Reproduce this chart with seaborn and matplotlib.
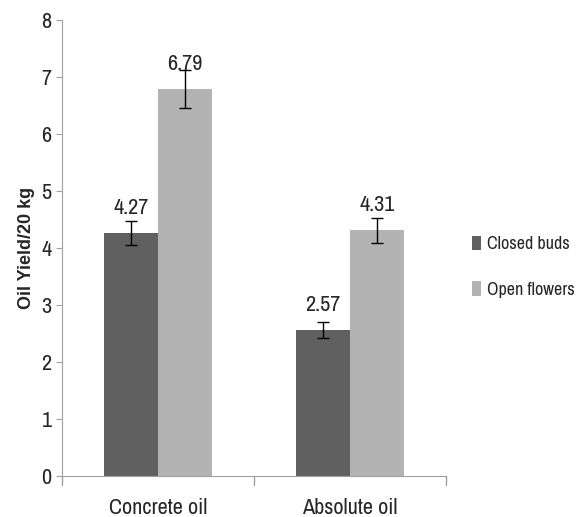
import pandas as pd
import seaborn as sns
import matplotlib.pyplot as plt

# data
oils = ["Concrete oil", "Absolute oil"]
closed_buds = [4.27, 2.57]
open_flowers = [6.79, 4.31]
closed_err = [0.21, 0.14]
open_err = [0.33, 0.22]

df = pd.DataFrame({
    "oil": oils * 2,
    "stage": ["Closed buds"] * 2 + ["Open flowers"] * 2,
    "yield": closed_buds + open_flowers,
    "err": closed_err + open_err,
})

sns.set_style("white")
plt.rcParams['font.family'] = ['Archivo Narrow', 'Liberation Sans Narrow', 'DejaVu Sans']

fig = plt.figure(figsize=(5.77, 5.17), dpi=100)
ax = fig.add_axes([0.1075, 0.0793, 0.6655, 0.8817])

palette = {"Closed buds": "#606060", "Open flowers": "#b3b3b3"}
sns.barplot(data=df, x="oil", y="yield", hue="stage", palette=palette,
            width=0.56, saturation=1, errorbar=None, ax=ax, linewidth=0)

# error bars + value labels, matched to bars through their patches
for cont, stage in zip(ax.containers, ["Closed buds", "Open flowers"]):
    sub = df[df["stage"] == stage]
    for bar, val, err in zip(cont, sub["yield"], sub["err"]):
        cx = bar.get_x() + bar.get_width() / 2
        ax.errorbar(cx, val, yerr=err, fmt="none", ecolor="black",
                    elinewidth=1, capsize=4, capthick=1)
        ax.annotate(f"{val:.2f}", (cx, val), xytext=(0, 18),
                    textcoords="offset points", ha="center", va="center",
                    fontsize=16)

ax.set_ylim(0, 8)
ax.set_xlim(-0.5, 1.5)
ax.set_yticks(range(0, 9))
ax.set_xlabel("")
ax.set_ylabel("Oil Yield/20 kg", fontsize=13, fontweight="bold",
              family=["Liberation Sans", "DejaVu Sans"], labelpad=5)
ax.tick_params(axis="both", labelsize=16, length=4, color="#a0a0a0",
               direction="out", bottom=False, left=True)
ax.tick_params(axis="x", pad=12)
for s in ["top", "right"]:
    ax.spines[s].set_visible(False)
for s in ["left", "bottom"]:
    ax.spines[s].set_color("#a0a0a0")

# category separators on the x axis
for xt in [-0.5, 0.5, 1.5]:
    ax.plot([xt, xt], [0, -0.15], color="#a0a0a0", lw=1, clip_on=False)

leg = ax.legend(loc="center left", bbox_to_anchor=(1.068, 0.459), frameon=False,
                fontsize=13, handlelength=0.5, handleheight=0.85,
                handletextpad=0.3, labelspacing=1.6,
                borderpad=0, borderaxespad=0)

fig.savefig("out.png", dpi=100)
